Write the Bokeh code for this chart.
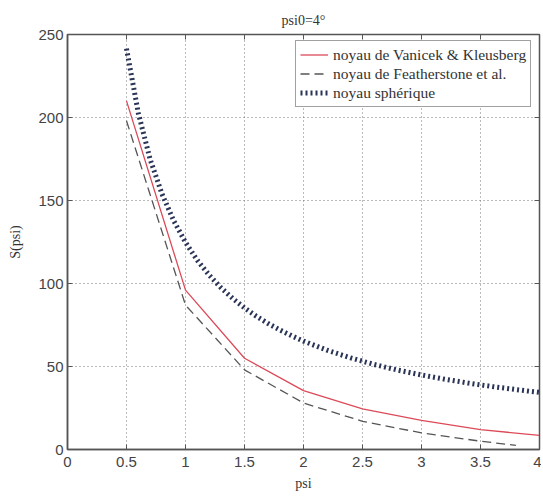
from bokeh.plotting import figure
from bokeh.models import Range1d, LinearAxis, FixedTicker, Legend, LegendItem
from bokeh.embed import file_html
from bokeh.resources import INLINE

# Data
psi_vk = [0.5, 1.0, 1.5, 2.0, 2.5, 3.0, 3.5, 4.0]
s_vk = [210, 96, 55, 35.5, 24.5, 17.5, 12, 8.5]

psi_fe = [0.5, 1.0, 1.5, 2.0, 2.5, 3.0, 3.5, 3.8]
s_fe = [198, 87, 48, 28, 17, 10, 5, 2.5]

psi_sp = [0.5, 0.6, 0.7, 0.8, 0.9, 1.0, 1.1, 1.2, 1.3, 1.4, 1.5, 1.6, 1.7, 1.8,
          1.9, 2.0, 2.2, 2.4, 2.6, 2.8, 3.0, 3.2, 3.4, 3.6, 3.8, 4.0]
s_sp = [241.5, 202.7, 174.9, 154.1, 137.8, 124.8, 114.0, 105.1, 97.5, 91.0,
        85.3, 80.3, 75.9, 72.0, 68.5, 65.3, 59.8, 55.2, 51.2, 47.8, 44.9,
        42.3, 40.0, 37.9, 36.1, 34.4]

x_ticks = [0, 0.5, 1, 1.5, 2, 2.5, 3, 3.5, 4]
y_ticks = [0, 50, 100, 150, 200, 250]

serif = "Liberation Serif"
tickfont = "Liberation Sans"

p = figure(width=541, height=494, output_backend="svg", toolbar_location=None,
           x_range=Range1d(0, 4), y_range=Range1d(0, 250),
           min_border_left=67, min_border_right=2, min_border_top=34, min_border_bottom=45)

p.title.text = "psi0=4°"
p.title.align = "center"
p.title.text_font = serif
p.title.text_font_style = "normal"
p.title.text_font_size = "14px"
p.title.text_color = "#333333"
p.title.standoff = 14

p.outline_line_color = "#555555"
p.outline_line_width = 1.5
p.background_fill_color = "white"
p.border_fill_color = "white"

for ax in (p.xaxis[0], p.yaxis[0]):
    ax.major_tick_in = 5
    ax.major_tick_out = 0
    ax.minor_tick_line_color = None
    ax.axis_line_color = "#555555"
    ax.axis_line_width = 1.5
    ax.major_tick_line_color = "#555555"
    ax.major_label_text_font = tickfont
    ax.major_label_text_font_size = "15px"
    ax.major_label_text_color = "#444444"
    ax.axis_label_text_font = serif
    ax.axis_label_text_font_style = "normal"
    ax.axis_label_text_font_size = "14px"
    ax.axis_label_text_color = "#333333"

p.xaxis[0].ticker = FixedTicker(ticks=x_ticks)
p.yaxis[0].ticker = FixedTicker(ticks=y_ticks)
p.xaxis[0].axis_label = "psi"
p.yaxis[0].axis_label = "S(psi)"
p.xaxis[0].major_label_standoff = 7
p.yaxis[0].major_label_standoff = 4
p.xaxis[0].axis_label_standoff = 6
p.yaxis[0].axis_label_standoff = 12

top = LinearAxis(ticker=FixedTicker(ticks=x_ticks), major_label_text_color=None,
                 major_tick_in=5, major_tick_out=0, minor_tick_line_color=None,
                 major_label_standoff=0,
                 axis_line_color="#555555", major_tick_line_color="#555555")
right = LinearAxis(ticker=FixedTicker(ticks=y_ticks), major_label_text_color=None,
                   major_tick_in=5, major_tick_out=0, minor_tick_line_color=None,
                   axis_line_color="#555555", major_tick_line_color="#555555")
p.add_layout(top, "above")
p.add_layout(right, "right")

p.xgrid.ticker = FixedTicker(ticks=x_ticks)
p.ygrid.ticker = FixedTicker(ticks=y_ticks)
for g in (p.xgrid[0], p.ygrid[0]):
    g.grid_line_color = "#777777"
    g.grid_line_dash = "1 3"
    g.grid_line_width = 1

r1 = p.line(psi_vk, s_vk, line_color="#dc4a58", line_width=1.3)
r2 = p.line(psi_fe, s_fe, line_color="#555555", line_width=1.3, line_dash="9 5")
r3 = p.line(psi_sp, s_sp, line_color="#2a3456", line_width=5, line_dash="2 3")

legend = Legend(items=[
    LegendItem(label="noyau de Vanicek & Kleusberg", renderers=[r1]),
    LegendItem(label="noyau de Featherstone et al.", renderers=[r2]),
    LegendItem(label="noyau sphérique", renderers=[r3]),
], location=(228, 342))
legend.label_text_font = serif
legend.label_text_font_size = "15.5px"
legend.label_text_color = "#333333"
legend.border_line_color = "#444444"
legend.border_line_width = 1.5
legend.margin = 0
legend.padding = 4
legend.spacing = 0
legend.label_height = 19
legend.glyph_height = 19
legend.glyph_width = 28
legend.label_standoff = 5
legend.background_fill_alpha = 1
p.add_layout(legend)

open("out.html", "w").write(file_html(p, INLINE))
